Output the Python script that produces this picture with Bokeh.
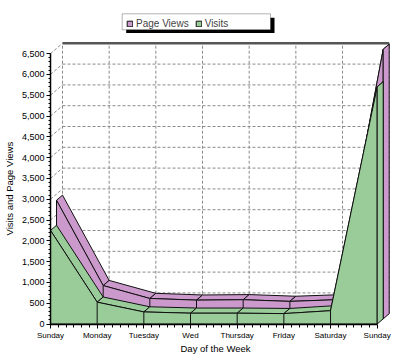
import numpy as np
from bokeh.plotting import figure
from bokeh.models import (Range1d, FixedTicker, NumeralTickFormatter, Legend,
                          LegendItem, Title, BoxAnnotation)
from bokeh.embed import file_html
from bokeh.resources import INLINE

# ---- data ----
days = ["Sunday", "Monday", "Tuesday", "Wed", "Thursday", "Friday", "Saturday", "Sunday"]
visits = [2250, 525, 290, 260, 260, 250, 320, 5700]
page_views = [2850, 800, 490, 450, 460, 420, 460, 6480]
y_ticks = list(range(0, 7000, 500))

# ---- layout ----
W, H = 400, 356
LEFT, RIGHT, TOP, BOTTOM = 50, 8, 0, 32
PX_X = 46.67            # px per category
PX_Y = 20.8 / 500       # px per unit
frame_w = W - LEFT - RIGHT
frame_h = H - TOP - BOTTOM
Y0 = -0.5 / PX_Y
DX = 12 / PX_X          # full depth in x units
DY = 10.3 / PX_Y        # full depth in y units

def px2x(px):
    return (px - LEFT) / PX_X

def px2y(py):
    return Y0 + (H - BOTTOM - py) / PX_Y

FONT = "Liberation Sans"
PURPLE = "#CC99CC"
GREEN = "#99CC99"
EDGE = "#111111"
GRID = "#8a8a8a"

p = figure(width=W, height=H, title=None,
           x_range=Range1d(0, frame_w / PX_X),
           y_range=Range1d(Y0, Y0 + frame_h / PX_Y),
           output_backend="svg", toolbar_location=None,
           min_border_left=LEFT, min_border_right=RIGHT,
           min_border_top=TOP, min_border_bottom=BOTTOM)
p.outline_line_color = None
p.xgrid.visible = False
p.ygrid.visible = False
p.background_fill_color = "white"
p.border_fill_color = "white"

n = len(days)
xi = np.arange(n, dtype=float)

# ---- back wall & side wall grid ----
hx, hy = [], []
for v in y_ticks[1:-1]:
    hx.append([DX, n - 1 + DX]); hy.append([v + DY, v + DY])
for i in range(n):
    hx.append([i + DX, i + DX]); hy.append([DY, y_ticks[-1] + DY])
for v in y_ticks[1:]:
    hx.append([0, DX]); hy.append([v, v + DY])
p.multi_line(hx, hy, line_color=GRID, line_width=1, line_dash="3 2")
p.line([DX, n - 1 + DX], [y_ticks[-1] + DY, y_ticks[-1] + DY],
       line_color="#555555", line_width=2.5)

# ---- 3D area layers ----
def layer(vals, z0, z1, color):
    vals = np.asarray(vals, dtype=float)
    qx, qy = [], []
    for i in range(n - 1):
        qx.append([xi[i] + z0 * DX, xi[i + 1] + z0 * DX, xi[i + 1] + z1 * DX, xi[i] + z1 * DX])
        qy.append([vals[i] + z0 * DY, vals[i + 1] + z0 * DY, vals[i + 1] + z1 * DY, vals[i] + z1 * DY])
    p.patches(qx, qy, fill_color=color, line_color=EDGE, line_width=1)
    fx = np.concatenate([[xi[0]], xi, [xi[-1]]]) + z0 * DX
    fy = np.concatenate([[0], vals, [0]]) + z0 * DY
    r = p.patch(fx, fy, fill_color=color, line_color=EDGE, line_width=1)
    lx = [[xi[i] + z0 * DX] * 2 for i in range(1, n - 1)]
    ly = [[z0 * DY, vals[i] + z0 * DY] for i in range(1, n - 1)]
    p.multi_line(lx, ly, line_color=EDGE, line_width=1)
    ex = [xi[-1] + z0 * DX, xi[-1] + z0 * DX, xi[-1] + z1 * DX, xi[-1] + z1 * DX]
    ey = [z0 * DY, vals[-1] + z0 * DY, vals[-1] + z1 * DY, z1 * DY]
    p.patch(ex, ey, fill_color=color, line_color=EDGE, line_width=1)
    return r

r_pv = layer(page_views, 0.5, 1.0, PURPLE)
r_v = layer(visits, 0.0, 0.5, GREEN)

# ---- axes ----
xa = p.xaxis[0]
xa.ticker = FixedTicker(ticks=list(range(n)),
                        minor_ticks=[i + k / 6 for i in range(n - 1) for k in range(1, 6)])
xa.major_label_overrides = {i: d for i, d in enumerate(days)}
xa.bounds = (0, n - 1)
xa.axis_line_color = "black"
xa.axis_line_width = 1.5
xa.major_tick_in = 0
xa.major_tick_out = 4
xa.minor_tick_in = 0
xa.minor_tick_out = 3
xa.major_label_standoff = 2
xa.major_label_text_font = FONT
xa.major_label_text_font_size = "8px"
xa.major_label_text_color = "black"

ya = p.yaxis[0]
ya.ticker = FixedTicker(ticks=y_ticks, minor_ticks=list(range(0, 6600, 100)))
ya.formatter = NumeralTickFormatter(format="0,0")
ya.bounds = (0, y_ticks[-1])
ya.axis_line_color = "black"
ya.axis_line_width = 1.5
ya.major_tick_in = 0
ya.major_tick_out = 4
ya.minor_tick_in = 0
ya.minor_tick_out = 2
ya.major_label_standoff = 2
ya.major_label_text_font = FONT
ya.major_label_text_font_size = "9px"
ya.major_label_text_color = "black"

# axis titles (as side-panel titles so they can be placed like the original)
p.add_layout(Title(text="Day of the Week", align="left", offset=130, standoff=0,
                   vertical_align="top", text_font=FONT, text_font_size="9.5px",
                   text_font_style="normal", text_color="black"), "below")
p.add_layout(Title(text="Visits and Page Views", align="left", offset=89, standoff=4,
                   vertical_align="top", text_font=FONT, text_font_size="9.5px",
                   text_font_style="normal", text_color="black"), "left")

# ---- legend with drop shadow ----
p.add_layout(BoxAnnotation(left=px2x(125.7), right=px2x(274), top=px2y(17.3), bottom=px2y(32.5),
                           fill_color="black", fill_alpha=1, line_color=None))
p.add_layout(BoxAnnotation(left=px2x(121.7), right=px2x(270), top=px2y(13.3), bottom=px2y(29.3),
                           fill_color="white", fill_alpha=1, line_color="black", line_width=1))
legend = Legend(items=[LegendItem(label="Page Views", renderers=[r_pv]),
                       LegendItem(label="Visits", renderers=[r_v])],
                orientation="horizontal", location=(76, (H - BOTTOM) - 29.3),
                padding=0, margin=0, spacing=6, label_standoff=3,
                glyph_width=7, glyph_height=7, label_height=7,
                background_fill_alpha=0, border_line_color=None,
                label_text_font=FONT, label_text_font_size="10px")
p.add_layout(legend, "center")

open("out.html", "w").write(file_html(p, INLINE))
